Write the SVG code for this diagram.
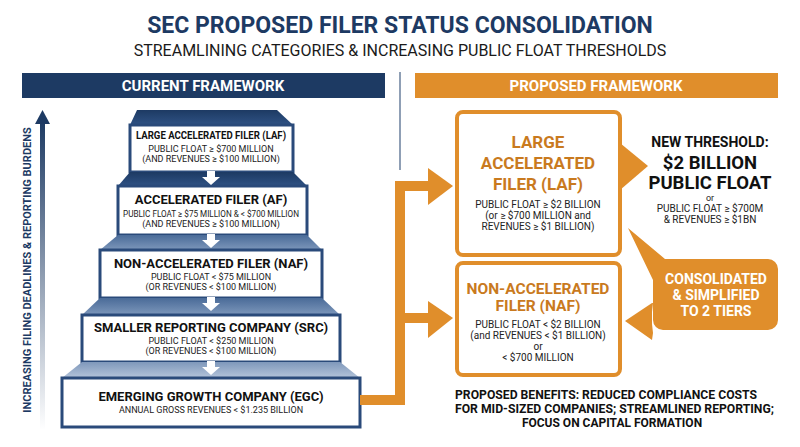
<svg xmlns="http://www.w3.org/2000/svg" width="800" height="447" viewBox="0 0 800 447">
<style>
text{font-family:"Roboto","Liberation Sans",sans-serif;text-anchor:middle}
.t{font-weight:bold;fill:#111}
.d{font-size:9px;fill:#222}
.box{fill:#fff;stroke:#2a4a7a;stroke-width:3}
.ob{fill:#fff;stroke:#e08e2b;stroke-width:4}
.o{font-weight:bold;fill:#c97a1e}
.or{fill:#e08e2b}
</style>
<defs>
<linearGradient id="cap" x1="0" y1="0" x2="0" y2="1"><stop offset="0" stop-color="#1d3a63"/><stop offset="1" stop-color="#2f5284"/></linearGradient>
<linearGradient id="cap2" x1="0" y1="0" x2="0" y2="1"><stop offset="0" stop-color="#4a6b98"/><stop offset="1" stop-color="#7d97bb"/></linearGradient>
<linearGradient id="cap3" x1="0" y1="0" x2="0" y2="1"><stop offset="0" stop-color="#7f98bb"/><stop offset="1" stop-color="#b4c4da"/></linearGradient>
<linearGradient id="ax" x1="0" y1="0" x2="0" y2="1"><stop offset="0" stop-color="#1d3a63"/><stop offset="1" stop-color="#1d3a63" stop-opacity="0"/></linearGradient>
</defs>
<rect width="800" height="447" fill="#fff"/>
<text x="400" y="33" style="font-size:23px;font-weight:bold;fill:#1d3a63">SEC PROPOSED FILER STATUS CONSOLIDATION</text>
<text x="400" y="56" style="font-size:16px;fill:#1a1a1a">STREAMLINING CATEGORIES &amp; INCREASING PUBLIC FLOAT THRESHOLDS</text>
<rect x="22" y="73" width="363" height="25" fill="#1d3a63"/>
<text x="203" y="91" style="font-size:15px;font-weight:bold;fill:#fff">CURRENT FRAMEWORK</text>
<rect x="415" y="73" width="363" height="25" fill="#e08e2b"/>
<text x="596" y="91" style="font-size:15px;font-weight:bold;fill:#fff">PROPOSED FRAMEWORK</text>
<line x1="400" y1="72" x2="400" y2="170" stroke="#6a7f9c" stroke-width="1.5"/>
<g id="axis">
<rect x="40" y="120" width="5" height="310" fill="url(#ax)"/>
<polygon points="42.5,110 35,124 50,124" fill="#1d3a63"/>
<text transform="translate(31,270) rotate(-90)" style="font-size:11px;font-weight:bold;fill:#1d3a63">INCREASING FILING DEADLINES &amp; REPORTING BURDENS</text>
</g>
<g id="laf">
<polygon points="137,110 277,110 293,125 130,125" fill="url(#cap)"/>
<rect class="box" x="130" y="125" width="163" height="47"/>
<text class="t" x="211" y="139" style="font-size:10.5px" textLength="150" lengthAdjust="spacingAndGlyphs">LARGE ACCELERATED FILER (LAF)</text>
<text class="d" x="211" y="152">PUBLIC FLOAT ≥ $700 MILLION</text>
<text class="d" x="211" y="162">(AND REVENUES ≥ $100 MILLION)</text>
</g>
<g id="af">
<polygon points="130,172 293,172 307,186 118,186" fill="url(#cap)"/>
<rect class="box" x="118" y="186" width="189" height="49"/>
<text class="t" x="211" y="204" style="font-size:13px">ACCELERATED FILER (AF)</text>
<text class="d" x="211" y="217" textLength="176" lengthAdjust="spacingAndGlyphs">PUBLIC FLOAT ≥ $75 MILLION &amp; &lt; $700 MILLION</text>
<text class="d" x="211" y="227">(AND REVENUES ≥ $100 MILLION)</text>
</g>
<g id="naf">
<polygon points="118,235 307,235 322,250 100,250" fill="url(#cap2)"/>
<rect class="box" x="100" y="250" width="222" height="48"/>
<text class="t" x="211" y="268" style="font-size:13px">NON-ACCELERATED FILER (NAF)</text>
<text class="d" x="211" y="280">PUBLIC FLOAT &lt; $75 MILLION</text>
<text class="d" x="211" y="290">(OR REVENUES &lt; $100 MILLION)</text>
</g>
<g id="src">
<polygon points="100,298 322,298 340,315 82,315" fill="url(#cap2)"/>
<rect class="box" x="82" y="315" width="258" height="47"/>
<text class="t" x="211" y="332" style="font-size:13px">SMALLER REPORTING COMPANY (SRC)</text>
<text class="d" x="211" y="344">PUBLIC FLOAT &lt; $250 MILLION</text>
<text class="d" x="211" y="354">(OR REVENUES &lt; $100 MILLION)</text>
</g>
<g id="egc">
<polygon points="82,362 340,362 360,378 62,378" fill="url(#cap3)"/>
<rect class="box" x="62" y="378" width="298" height="49"/>
<text class="t" x="211" y="401" style="font-size:13px">EMERGING GROWTH COMPANY (EGC)</text>
<text class="d" x="211" y="413">ANNUAL GROSS REVENUES &lt; $1.235 BILLION</text>
</g>
<g id="connectors">
<g fill="#fff">
<path d="M207,171h8v6h5l-9,8l-9,-8h5z"/>
<path d="M207,234h8v6h5l-9,8l-9,-8h5z"/>
<path d="M207,297h8v6h5l-9,8l-9,-8h5z"/>
<path d="M207,361h8v6h5l-9,8l-9,-8h5z"/>
</g>
<path d="M360,400H400V186H432M400,318H432" fill="none" stroke="#e08e2b" stroke-width="10"/>
<polygon class="or" points="428,168 453,186 428,205"/>
<polygon class="or" points="428,301 453,318 428,338"/>
<polygon class="or" points="620,143 648,166 620,190"/>
</g>
<g id="p-laf">
<rect class="ob" x="457" y="112" width="163" height="143" rx="6"/>
<text class="o" x="538" y="148" style="font-size:17px">LARGE</text>
<text class="o" x="538" y="169" style="font-size:17px">ACCELERATED</text>
<text class="o" x="538" y="190" style="font-size:17px">FILER (LAF)</text>
<text x="538" y="208" style="font-size:10px;fill:#222">PUBLIC FLOAT ≥ $2 BILLION</text>
<text x="538" y="219" style="font-size:10px;fill:#222">(or ≥ $700 MILLION and</text>
<text x="538" y="230" style="font-size:10px;fill:#222">REVENUES ≥ $1 BILLION)</text>
</g>
<g id="p-naf">
<rect class="ob" x="457" y="263" width="163" height="112" rx="6"/>
<text class="o" x="538" y="294" style="font-size:15.5px">NON-ACCELERATED</text>
<text class="o" x="538" y="311" style="font-size:15.5px">FILER (NAF)</text>
<text x="538" y="328" style="font-size:10px;fill:#222">PUBLIC FLOAT &lt; $2 BILLION</text>
<text x="538" y="339" style="font-size:10px;fill:#222">(and REVENUES &lt; $1 BILLION)</text>
<text x="538" y="350" style="font-size:10px;fill:#222">or</text>
<text x="538" y="361" style="font-size:10px;fill:#222">&lt; $700 MILLION</text>
</g>
<g id="threshold">
<text class="t" x="710" y="147" style="font-size:14px">NEW THRESHOLD:</text>
<text class="t" x="710" y="169" style="font-size:18.5px">$2 BILLION</text>
<text class="t" x="710" y="189" style="font-size:18.5px">PUBLIC FLOAT</text>
<text x="710" y="201" style="font-size:9px;fill:#222">or</text>
<text x="710" y="212" style="font-size:10px;fill:#222">PUBLIC FLOAT ≥ $700M</text>
<text x="710" y="223" style="font-size:10px;fill:#222">&amp; REVENUES ≥ $1BN</text>
</g>
<g id="callout">
<path class="or" d="M663,259H768a10,10 0 0 1 10,10V320a10,10 0 0 1 -10,10H663a10,10 0 0 1 -10,-10V280L628,228L665,259Z"/>
<polygon class="or" points="653,303 652,312 652,324 653,333 652,340 625,321 652,303"/>
<text x="716" y="284" style="font-size:14px;font-weight:bold;fill:#fff">CONSOLIDATED</text>
<text x="716" y="300" style="font-size:14px;font-weight:bold;fill:#fff">&amp; SIMPLIFIED</text>
<text x="716" y="316" style="font-size:14px;font-weight:bold;fill:#fff">TO 2 TIERS</text>
</g>
<g id="benefits">
<text class="t" x="455" y="399" style="font-size:12px;text-anchor:start" textLength="302" lengthAdjust="spacingAndGlyphs">PROPOSED BENEFITS: REDUCED COMPLIANCE COSTS</text>
<text class="t" x="455" y="413" style="font-size:12px;text-anchor:start" textLength="319" lengthAdjust="spacingAndGlyphs">FOR MID-SIZED COMPANIES; STREAMLINED REPORTING;</text>
<text class="t" x="612" y="427" style="font-size:12px">FOCUS ON CAPITAL FORMATION</text>
</g>
</svg>
